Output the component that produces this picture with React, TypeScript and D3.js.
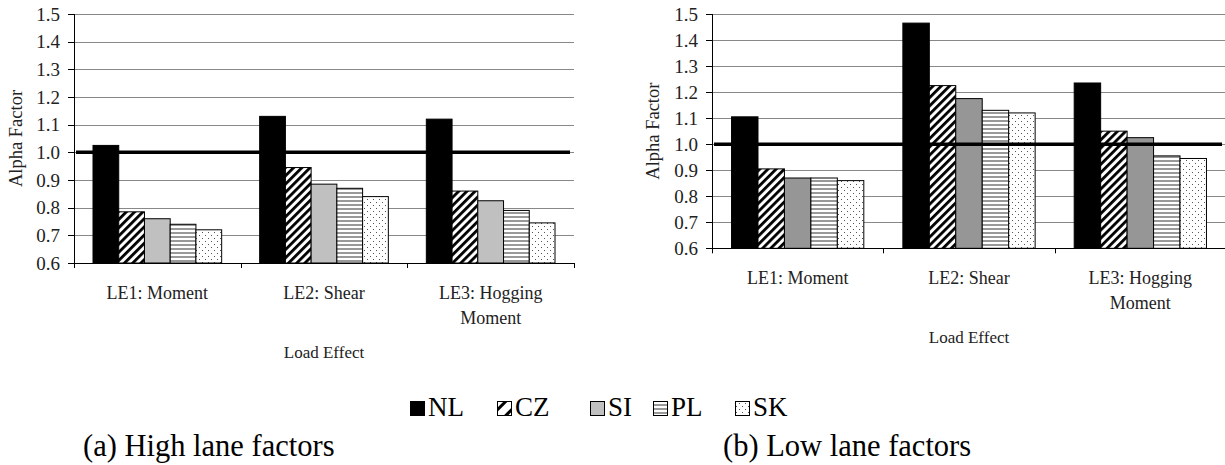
import React from "react";
import * as d3 from "d3";

// ---------- data ----------
const categories = ["LE1: Moment", "LE2: Shear", "LE3: Hogging Moment"];
const seriesNames = ["NL", "CZ", "SI", "PL", "SK"];
const yTickValues = [0.6, 0.7, 0.8, 0.9, 1.0, 1.1, 1.2, 1.3, 1.4, 1.5];
const referenceValue = 1.0;

// (a) High lane factors
const highNL = [1.025, 1.13, 1.12];
const highCZ = [0.785, 0.945, 0.86];
const highSI = [0.76, 0.885, 0.825];
const highPL = [0.74, 0.87, 0.79];
const highSK = [0.72, 0.84, 0.745];

// (b) Low lane factors
const lowNL = [1.105, 1.465, 1.235];
const lowCZ = [0.905, 1.225, 1.05];
const lowSI = [0.87, 1.175, 1.025];
const lowPL = [0.87, 1.13, 0.955];
const lowSK = [0.86, 1.12, 0.945];

const yAxisTitle = "Alpha Factor";
const xAxisTitle = "Load Effect";
const captionA = "(a) High lane factors";
const captionB = "(b) Low lane factors";

const FONT = '"Liberation Serif", "Times New Roman", Times, serif';

function wrapLabel(s: string): string[] {
  if (s.length <= 12) return [s];
  const i = s.lastIndexOf(" ");
  return [s.slice(0, i), s.slice(i + 1)];
}

type ChartProps = {
  series: number[][];
  left: number;
  right: number;
  top: number;
  bottom: number;
  siFill: string;
  yTitleX: number;
};

function BarChart({ series, left, right, top, bottom, siFill, yTitleX }: ChartProps) {
  const x = d3.scaleBand<string>().domain(categories).range([left, right]);
  const bw = x.bandwidth();
  const xs = d3.scaleBand<string>().domain(seriesNames).range([bw * 0.114, bw * 0.886]);
  const y = d3.scaleLinear().domain([0.6, 1.5]).range([bottom, top]);
  const fmt = d3.format(".1f");
  const fills: Record<string, string> = {
    NL: "#000000",
    CZ: "url(#czPat)",
    SI: siFill,
    PL: "url(#plPat)",
    SK: "url(#skPat)",
  };
  const boundaries = [...categories.map((c) => x(c) as number), right];
  const midX = (left + right) / 2;
  return (
    <g>
      {yTickValues.slice(1).map((t) => (
        <line key={"g" + t} x1={left} x2={right} y1={Math.round(y(t)) + 0.5} y2={Math.round(y(t)) + 0.5} stroke="#888888" strokeWidth={1} />
      ))}
      {categories.map((c, ci) =>
        seriesNames.map((s, si) => {
          const v = series[si][ci];
          const bx = (x(c) as number) + (xs(s) as number);
          return (
            <rect
              key={c + s}
              x={bx}
              y={y(v)}
              width={xs.bandwidth()}
              height={y(0.6) - y(v)}
              fill={fills[s]}
              stroke="#000"
              strokeWidth={1}
            />
          );
        })
      )}
      <line x1={left + 2} x2={right - 4} y1={y(referenceValue)} y2={y(referenceValue)} stroke="#000" strokeWidth={3.5} />
      <line x1={left + 0.5} x2={left + 0.5} y1={top} y2={bottom} stroke="#000" strokeWidth={1} />
      {yTickValues.map((t) => (
        <g key={"t" + t}>
          <line x1={left - 6} x2={left} y1={Math.round(y(t)) + 0.5} y2={Math.round(y(t)) + 0.5} stroke="#000" strokeWidth={1} />
          <text x={left - 14} y={y(t)} dy="0.35em" textAnchor="end" fontSize={19} fill="#222">
            {fmt(t)}
          </text>
        </g>
      ))}
      <line x1={left} x2={right} y1={Math.round(bottom) + 0.5} y2={Math.round(bottom) + 0.5} stroke="#000" strokeWidth={1} />
      {boundaries.map((b, i) => (
        <line key={"b" + i} x1={Math.round(b) + 0.5} x2={Math.round(b) + 0.5} y1={bottom} y2={bottom + 5} stroke="#000" strokeWidth={1} />
      ))}
      {categories.map((c) =>
        wrapLabel(c).map((line, li) => (
          <text
            key={c + li}
            x={(x(c) as number) + bw / 2}
            y={bottom + 36 + li * 25}
            textAnchor="middle"
            fontSize={18}
            fill="#222"
          >
            {line}
          </text>
        ))
      )}
      <text x={midX} y={bottom + 95} textAnchor="middle" fontSize={17} fill="#222">
        {xAxisTitle}
      </text>
      <text
        transform={`translate(${yTitleX},${(top + bottom) / 2}) rotate(-90)`}
        textAnchor="middle"
        dy="0.35em"
        fontSize={18.5}
        fill="#222"
      >
        {yAxisTitle}
      </text>
    </g>
  );
}

const legendSquareX = [410, 497, 590, 653, 735];

export default function App() {
  const high = [highNL, highCZ, highSI, highPL, highSK];
  const low = [lowNL, lowCZ, lowSI, lowPL, lowSK];
  const legendFills: Record<string, string> = {
    NL: "#000000",
    CZ: "url(#czPatL)",
    SI: "#c0c0c0",
    PL: "url(#plPat)",
    SK: "url(#skPat)",
  };
  return (
    <svg
      width={1225}
      height={465}
      style={{ position: "absolute", left: 0, top: 0, display: "block", background: "#fff", fontFamily: FONT }}
    >
      <defs>
        <pattern id="czPat" patternUnits="userSpaceOnUse" width={5.8} height={5.8} patternTransform="rotate(45)">
          <rect width={5.8} height={5.8} fill="#fff" />
          <rect width={2.8} height={5.8} fill="#000" />
        </pattern>
        <pattern id="czPatL" patternUnits="userSpaceOnUse" width={10} height={10} patternTransform="rotate(45)">
          <rect width={10} height={10} fill="#fff" />
          <rect width={3} height={10} fill="#000" />
        </pattern>
        <pattern id="plPat" patternUnits="userSpaceOnUse" width={4} height={4}>
          <rect width={4} height={4} fill="#fff" />
          <rect width={4} height={2} fill="#999999" />
        </pattern>
        <pattern id="skPat" patternUnits="userSpaceOnUse" width={6} height={6}>
          <rect width={6} height={6} fill="#fff" />
          <rect x={1} y={1} width={1} height={1} fill="#555" />
          <rect x={4} y={4} width={1} height={1} fill="#555" />
        </pattern>
      </defs>
      <rect width={1225} height={465} fill="#fff" />

      <BarChart series={high} left={74} right={574} top={14} bottom={263} siFill="#c0c0c0" yTitleX={16} />
      <BarChart series={low} left={712} right={1226} top={14} bottom={248.3} siFill="#969696" yTitleX={653} />

      {seriesNames.map((s, i) => (
        <g key={"lg" + s}>
          <rect x={legendSquareX[i] + 0.5} y={401.5} width={14} height={14} fill={legendFills[s]} stroke="#000" strokeWidth={1} />
          <text x={legendSquareX[i] + 18} y={416} fontSize={27} fill="#000">
            {s}
          </text>
        </g>
      ))}

      <text x={83} y={456} fontSize={30.5} fill="#000">
        {captionA}
      </text>
      <text x={723} y={456} fontSize={30.5} fill="#000">
        {captionB}
      </text>
    </svg>
  );
}
